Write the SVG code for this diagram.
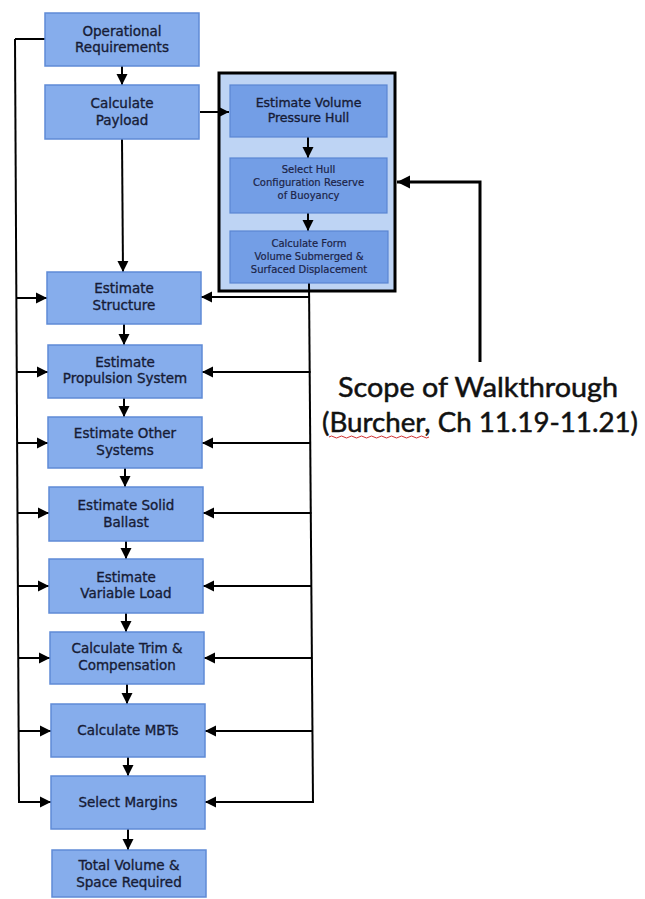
<svg xmlns="http://www.w3.org/2000/svg" width="645" height="899" viewBox="0 0 645 899">
<defs>
<marker id="ah" viewBox="0 0 10 10" refX="10" refY="5" markerWidth="11" markerHeight="13" markerUnits="userSpaceOnUse" orient="auto"><path d="M0,0 L10,5 L0,10 z" fill="#000"/></marker>
<marker id="ahb" viewBox="0 0 10 10" refX="10" refY="5" markerWidth="13" markerHeight="15" markerUnits="userSpaceOnUse" orient="auto"><path d="M0,0 L10,5 L0,10 z" fill="#000"/></marker>
</defs>
<style>
.box{fill:#86adec;stroke:#5f8bd6;stroke-width:1.5}
.ibox{fill:#739ee6;stroke:#5a86d2;stroke-width:1.2}
.t{font-family:"DejaVu Sans",Verdana,sans-serif;font-size:13.5px;fill:#171c36;stroke:#171c36;stroke-width:0.35;text-anchor:middle}
.ti{font-family:"DejaVu Sans",Verdana,sans-serif;font-size:10px;fill:#1c2448;stroke:#1c2448;stroke-width:0.2;text-anchor:middle}
.c{stroke:#000;stroke-width:2;fill:none}
.big{font-family:Lato,"Liberation Sans",Arial,sans-serif;font-size:27px;fill:#111;stroke:#111;stroke-width:0.5}
</style>
<rect width="645" height="899" fill="#fff"/>
<g id="scope">
<rect x="219" y="73" width="176" height="218" fill="#bed4f4" stroke="#000" stroke-width="3"/>
</g>
<g id="connectors">
<line class="c" x1="15" y1="39" x2="19" y2="803"/>
<line class="c" x1="15" y1="39" x2="45" y2="39"/>
<line class="c" x1="16.3" y1="298" x2="47" y2="298" marker-end="url(#ah)"/>
<line class="c" x1="16.5" y1="372" x2="48" y2="372" marker-end="url(#ah)"/>
<line class="c" x1="16.9" y1="443" x2="48" y2="443" marker-end="url(#ah)"/>
<line class="c" x1="17.2" y1="513" x2="49" y2="513" marker-end="url(#ah)"/>
<line class="c" x1="17.6" y1="586" x2="49" y2="586" marker-end="url(#ah)"/>
<line class="c" x1="18" y1="658" x2="50" y2="658" marker-end="url(#ah)"/>
<line class="c" x1="18.3" y1="731" x2="51" y2="731" marker-end="url(#ah)"/>
<line class="c" x1="18.7" y1="802" x2="51" y2="802" marker-end="url(#ah)"/>
<line class="c" x1="309" y1="283" x2="313" y2="803"/>
<line class="c" x1="310" y1="297" x2="201" y2="297" marker-end="url(#ah)"/>
<line class="c" x1="310.6" y1="372" x2="202" y2="372" marker-end="url(#ah)"/>
<line class="c" x1="311" y1="443" x2="202" y2="443" marker-end="url(#ah)"/>
<line class="c" x1="311.5" y1="513" x2="203" y2="513" marker-end="url(#ah)"/>
<line class="c" x1="312" y1="586" x2="203" y2="586" marker-end="url(#ah)"/>
<line class="c" x1="312.3" y1="658" x2="204" y2="658" marker-end="url(#ah)"/>
<line class="c" x1="312.7" y1="731" x2="205" y2="731" marker-end="url(#ah)"/>
<line class="c" x1="313" y1="802" x2="205" y2="802" marker-end="url(#ah)"/>
<line class="c" x1="122" y1="66" x2="122" y2="85" marker-end="url(#ah)"/>
<line class="c" x1="122" y1="139" x2="123" y2="272" marker-end="url(#ah)"/>
<line class="c" x1="124" y1="324" x2="124" y2="345" marker-end="url(#ah)"/>
<line class="c" x1="124" y1="398" x2="124" y2="417" marker-end="url(#ah)"/>
<line class="c" x1="125" y1="468" x2="125" y2="487" marker-end="url(#ah)"/>
<line class="c" x1="126" y1="541" x2="126" y2="559" marker-end="url(#ah)"/>
<line class="c" x1="126" y1="613" x2="126" y2="632" marker-end="url(#ah)"/>
<line class="c" x1="127" y1="684" x2="127" y2="704" marker-end="url(#ah)"/>
<line class="c" x1="128" y1="757" x2="128" y2="776" marker-end="url(#ah)"/>
<line class="c" x1="128" y1="829" x2="128" y2="850" marker-end="url(#ah)"/>
<line class="c" x1="200" y1="112" x2="229" y2="112" marker-end="url(#ah)"/>
<line class="c" x1="308" y1="137" x2="308" y2="158" marker-end="url(#ah)"/>
<line class="c" x1="308" y1="213" x2="308" y2="231" marker-end="url(#ah)"/>
<path d="M480,362 L480,182 L397,182" fill="none" stroke="#000" stroke-width="3" marker-end="url(#ahb)"/>
</g>
<g id="n-vol"><rect class="ibox" x="230" y="85" width="157" height="52"/><text class="t" style="font-size:12.5px" x="308.5" y="107">Estimate Volume</text><text class="t" style="font-size:12.5px" x="308.5" y="122">Pressure Hull</text></g>
<g id="n-hull"><rect class="ibox" x="230" y="158" width="157" height="55"/><text class="ti" x="308.5" y="173">Select Hull</text><text class="ti" x="308.5" y="186">Configuration Reserve</text><text class="ti" x="308.5" y="199">of Buoyancy</text></g>
<g id="n-form"><rect class="ibox" x="230" y="231" width="158" height="52"/><text class="ti" x="309" y="247">Calculate Form</text><text class="ti" x="309" y="260">Volume Submerged &amp;</text><text class="ti" x="309" y="273">Surfaced Displacement</text></g>
<g id="n-op"><rect class="box" x="45" y="13" width="154" height="53"/><text class="t" x="122" y="36">Operational</text><text class="t" x="122" y="52">Requirements</text></g>
<g id="n-pay"><rect class="box" x="45" y="85" width="154" height="54"/><text class="t" x="122" y="108">Calculate</text><text class="t" x="122" y="125">Payload</text></g>
<g id="n-str"><rect class="box" x="47" y="272" width="154" height="52"/><text class="t" x="124" y="293">Estimate</text><text class="t" x="124" y="310">Structure</text></g>
<g id="n-prop"><rect class="box" x="48" y="345" width="154" height="53"/><text class="t" x="125" y="367">Estimate</text><text class="t" x="125" y="383">Propulsion System</text></g>
<g id="n-oth"><rect class="box" x="48" y="417" width="154" height="51"/><text class="t" x="125" y="438">Estimate Other</text><text class="t" x="125" y="455">Systems</text></g>
<g id="n-sol"><rect class="box" x="49" y="487" width="154" height="54"/><text class="t" x="126" y="510">Estimate Solid</text><text class="t" x="126" y="527">Ballast</text></g>
<g id="n-var"><rect class="box" x="49" y="559" width="154" height="54"/><text class="t" x="126" y="582">Estimate</text><text class="t" x="126" y="598">Variable Load</text></g>
<g id="n-trim"><rect class="box" x="50" y="632" width="154" height="52"/><text class="t" x="127" y="653">Calculate Trim &amp;</text><text class="t" x="127" y="670">Compensation</text></g>
<g id="n-mbt"><rect class="box" x="51" y="704" width="154" height="53"/><text class="t" x="128" y="735">Calculate MBTs</text></g>
<g id="n-mar"><rect class="box" x="51" y="776" width="154" height="53"/><text class="t" x="128" y="807">Select Margins</text></g>
<g id="n-tot"><rect class="box" x="52" y="850" width="154" height="47"/><text class="t" x="129" y="870">Total Volume  &amp;</text><text class="t" x="129" y="887">Space Required</text></g>
<g id="label">
<text class="big" x="338" y="397" textLength="280" lengthAdjust="spacingAndGlyphs">Scope of Walkthrough</text>
<text class="big" x="322" y="432" textLength="316" lengthAdjust="spacingAndGlyphs">(Burcher, Ch 11.19-11.21)</text>
<path d="M329,437 q2.5,-2 5,0 t5,0 t5,0 t5,0 t5,0 t5,0 t5,0 t5,0 t5,0 t5,0 t5,0 t5,0 t5,0 t5,0 t5,0 t5,0 t5,0 t5,0 t5,0 t5,0" fill="none" stroke="#d03030" stroke-width="1"/>
</g>
</svg>
